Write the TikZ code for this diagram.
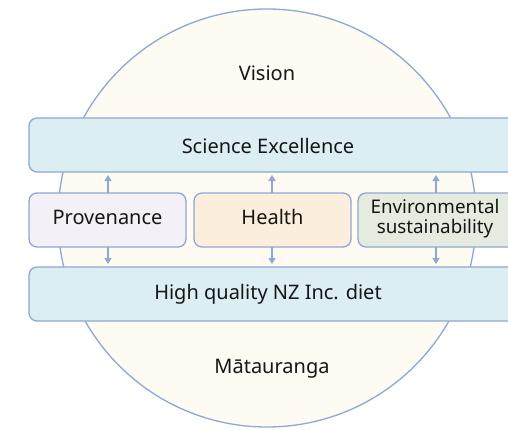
\documentclass[tikz,border=0pt]{standalone}
\usepackage{fontspec}
\setmainfont{Noto Sans}
\usetikzlibrary{arrows.meta}
\definecolor{edge}{HTML}{8FA7D6}
\definecolor{cream}{HTML}{FEFBF2}
\definecolor{band}{HTML}{DCEEF2}
\definecolor{lav}{HTML}{F3F0F8}
\definecolor{peach}{HTML}{FCEEDC}
\definecolor{sage}{HTML}{E5ECDF}
\definecolor{ink}{HTML}{161616}
\begin{document}
\begin{tikzpicture}[x=1pt,y=-1pt,
  box/.style={draw=edge,line width=1.3pt,rounded corners=8pt},
  lbl/.style={font=\fontsize{20}{20.5}\selectfont,align=center,text=ink,inner sep=0pt},
  link/.style={draw=edge,line width=1.3pt,-{Triangle[length=6pt,width=7pt]}}]
\useasboundingbox (0,0) rectangle (508,429);
\clip (0,0) rectangle (508,429);
\fill[white] (0,0) rectangle (508,429);
% the surrounding circle
\draw[edge,fill=cream,line width=1.3pt] (267,218) circle[radius=209];
\node[lbl] (vision) at (267,73) {Vision};
\node[lbl] (matauranga) at (272,369) {Mātauranga};
% horizontal bands
\draw[box,fill=band] (29,118) rectangle (530,172);
\node[lbl] (science) at (268,146) {Science Excellence};
\draw[box,fill=band] (29,267) rectangle (530,321);
\node[lbl] (diet) at (268,294) {High quality NZ Inc. diet};
% pillars
\draw[box,fill=lav] (29,193) rectangle (186,247);
\node[lbl] (prov) at (107.5,217) {Provenance};
\draw[box,fill=peach] (194,193) rectangle (351,247);
\node[lbl] (health) at (272.5,217) {Health};
\draw[box,fill=sage] (358,193) rectangle (530,247);
\node[lbl,font=\fontsize{18.8}{20}\selectfont] (env) at (435,219) {Environmental\\sustainability};
% connectors
\coordinate (p1) at (108,193); \coordinate (p1t) at (108,175);
\coordinate (p2) at (108,247); \coordinate (p2b) at (108,264);
\coordinate (h1) at (272,193); \coordinate (h1t) at (272,175);
\coordinate (h2) at (272,247); \coordinate (h2b) at (272,264);
\coordinate (e1) at (436,193); \coordinate (e1t) at (436,175);
\coordinate (e2) at (436,247); \coordinate (e2b) at (436,264);
\draw[link] (p1) -- (p1t);
\draw[link] (p2) -- (p2b);
\draw[link] (h1) -- (h1t);
\draw[link] (h2) -- (h2b);
\draw[link] (e1) -- (e1t);
\draw[link] (e2) -- (e2b);
\end{tikzpicture}
\end{document}
